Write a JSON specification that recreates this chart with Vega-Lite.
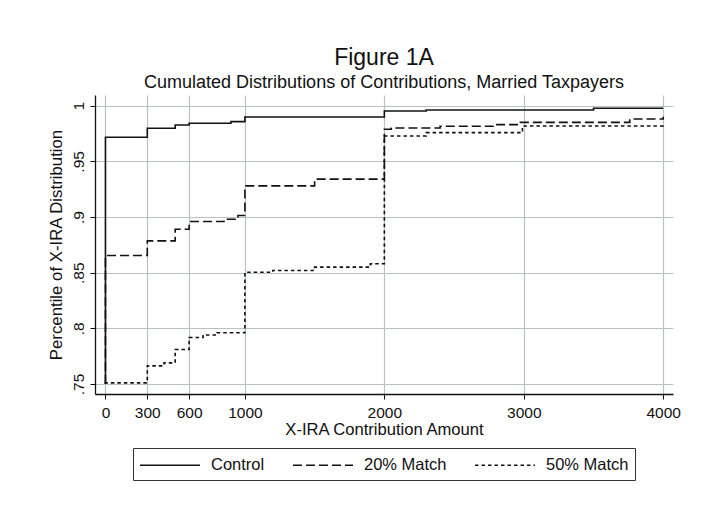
{
  "$schema": "https://vega.github.io/schema/vega-lite/v6.json",
  "autosize": {"type": "none"},
  "padding": {"left": 95, "top": 95, "right": 29, "bottom": 118},
  "width": 578,
  "height": 299,
  "background": "white",
  "title": {
    "text": "Figure 1A",
    "subtitle": "Cumulated Distributions of Contributions, Married Taxpayers",
    "anchor": "middle",
    "font": "Liberation Sans",
    "fontSize": 23,
    "fontWeight": "normal",
    "color": "#111111",
    "subtitleFont": "Liberation Sans",
    "subtitleFontSize": 18,
    "subtitleColor": "#111111",
    "subtitlePadding": 4,
    "offset": 3
  },
  "config": {
    "view": {"stroke": null},
    "axis": {
      "labelFont": "Liberation Sans",
      "titleFont": "Liberation Sans",
      "labelFontSize": 15.5,
      "titleFontSize": 16.6,
      "titleFontWeight": "normal",
      "labelColor": "#111111",
      "titleColor": "#111111",
      "domainColor": "#111111",
      "tickColor": "#111111",
      "gridColor": "#b8c2c2",
      "gridWidth": 1.2,
      "domainWidth": 1.3,
      "tickSize": 5
    }
  },
  "data": {
    "values": [
      {"series": "Control", "o": 1, "x": 0, "y": 0.75},
      {"series": "Control", "o": 2, "x": 0, "y": 0.9716},
      {"series": "Control", "o": 3, "x": 300, "y": 0.9797},
      {"series": "Control", "o": 4, "x": 500, "y": 0.9827},
      {"series": "Control", "o": 5, "x": 600, "y": 0.9842},
      {"series": "Control", "o": 6, "x": 900, "y": 0.9857},
      {"series": "Control", "o": 7, "x": 1000, "y": 0.9899},
      {"series": "Control", "o": 8, "x": 2000, "y": 0.9952},
      {"series": "Control", "o": 9, "x": 2300, "y": 0.9961},
      {"series": "Control", "o": 10, "x": 3500, "y": 0.9977},
      {"series": "Control", "o": 11, "x": 4000, "y": 0.9977},
      {"series": "20% Match", "o": 1, "x": 0, "y": 0.75},
      {"series": "20% Match", "o": 2, "x": 0, "y": 0.8654},
      {"series": "20% Match", "o": 3, "x": 300, "y": 0.8786},
      {"series": "20% Match", "o": 4, "x": 500, "y": 0.889},
      {"series": "20% Match", "o": 5, "x": 600, "y": 0.8959},
      {"series": "20% Match", "o": 6, "x": 850, "y": 0.898},
      {"series": "20% Match", "o": 7, "x": 950, "y": 0.9013},
      {"series": "20% Match", "o": 8, "x": 1000, "y": 0.928},
      {"series": "20% Match", "o": 9, "x": 1500, "y": 0.934},
      {"series": "20% Match", "o": 10, "x": 2000, "y": 0.9788},
      {"series": "20% Match", "o": 11, "x": 2050, "y": 0.98},
      {"series": "20% Match", "o": 12, "x": 2400, "y": 0.9815},
      {"series": "20% Match", "o": 13, "x": 2780, "y": 0.983},
      {"series": "20% Match", "o": 14, "x": 2975, "y": 0.985},
      {"series": "20% Match", "o": 15, "x": 3760, "y": 0.988},
      {"series": "20% Match", "o": 16, "x": 4000, "y": 0.99},
      {"series": "50% Match", "o": 1, "x": 0, "y": 0.75},
      {"series": "50% Match", "o": 2, "x": 0, "y": 0.751},
      {"series": "50% Match", "o": 3, "x": 300, "y": 0.7663},
      {"series": "50% Match", "o": 4, "x": 420, "y": 0.769},
      {"series": "50% Match", "o": 5, "x": 500, "y": 0.781},
      {"series": "50% Match", "o": 6, "x": 600, "y": 0.7917},
      {"series": "50% Match", "o": 7, "x": 700, "y": 0.794},
      {"series": "50% Match", "o": 8, "x": 800, "y": 0.796},
      {"series": "50% Match", "o": 9, "x": 1000, "y": 0.8504},
      {"series": "50% Match", "o": 10, "x": 1200, "y": 0.852},
      {"series": "50% Match", "o": 11, "x": 1500, "y": 0.855},
      {"series": "50% Match", "o": 12, "x": 1900, "y": 0.858},
      {"series": "50% Match", "o": 13, "x": 2000, "y": 0.9728},
      {"series": "50% Match", "o": 14, "x": 2300, "y": 0.9758},
      {"series": "50% Match", "o": 15, "x": 2990, "y": 0.9818},
      {"series": "50% Match", "o": 16, "x": 4000, "y": 0.984}
    ]
  },
  "mark": {"type": "line", "interpolate": "step-after", "color": "#111111", "strokeWidth": 1.6, "clip": true},
  "encoding": {
    "x": {
      "field": "x",
      "type": "quantitative",
      "scale": {"domain": [-75, 4070], "nice": false, "zero": false},
      "axis": {
        "values": [0, 300, 600, 1000, 2000, 3000, 4000],
        "format": "d",
        "title": "X-IRA Contribution Amount",
        "titlePadding": 1,
        "labelPadding": 6,
        "labelFlush": false
      }
    },
    "y": {
      "field": "y",
      "type": "quantitative",
      "scale": {"domain": [0.741, 1.0096], "nice": false, "zero": false},
      "axis": {
        "values": [0.75, 0.8, 0.85, 0.9, 0.95, 1],
        "labelExpr": "replace(format(datum.value, '.2~f'), '0.', '.')",
        "labelAngle": 270,
        "labelAlign": "center",
        "labelBaseline": "bottom",
        "labelPadding": 4,
        "title": "Percentile of X-IRA Distribution",
        "titleFontSize": 16.8,
        "titlePadding": 6
      }
    },
    "order": {"field": "o", "type": "quantitative"},
    "strokeDash": {
      "field": "series",
      "type": "nominal",
      "scale": {
        "domain": ["Control", "20% Match", "50% Match"],
        "range": [[1, 0], [9, 4], [3.5, 3]]
      },
      "legend": {
        "title": null,
        "orient": "none",
        "legendX": 38,
        "legendY": 353,
        "direction": "horizontal",
        "columns": 3,
        "symbolType": "M-1,0H5",
        "symbolSize": 400,
        "symbolStrokeColor": "#111111",
        "symbolStrokeWidth": 1.6,
        "labelFont": "Liberation Sans",
        "labelFontSize": 16.5,
        "labelColor": "#111111",
        "labelOffset": 50,
        "columnPadding": 24,
        "padding": 6,
        "strokeColor": "#333333",
        "fillColor": "white"
      }
    }
  }
}
